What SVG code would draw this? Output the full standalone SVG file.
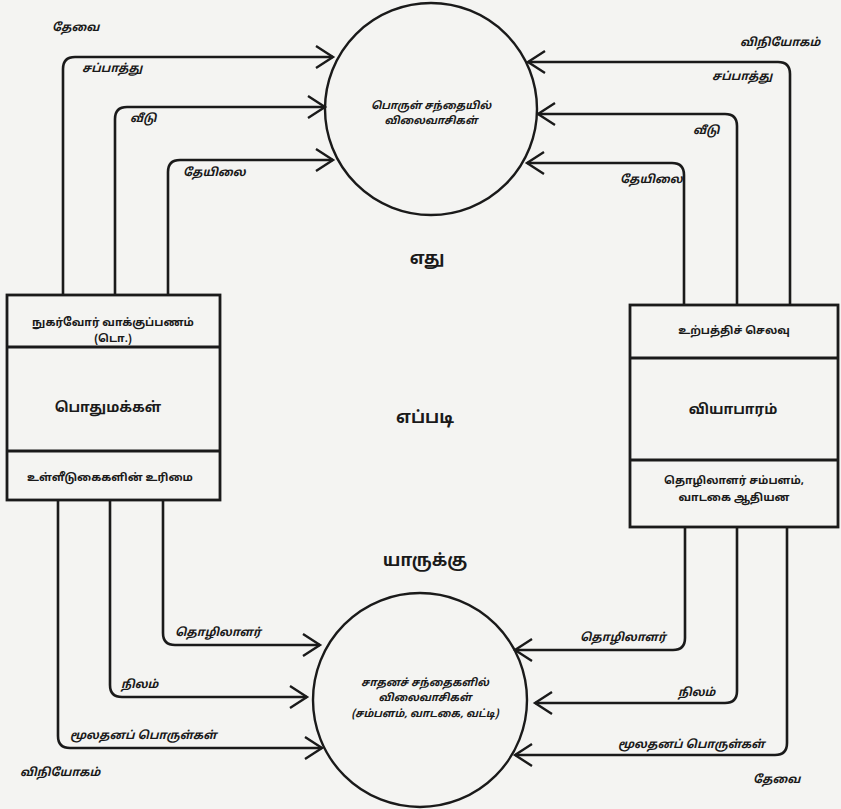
<svg xmlns="http://www.w3.org/2000/svg" width="841" height="809" viewBox="0 0 841 809">
<defs>
<marker id="ah" markerWidth="22" markerHeight="26" refX="19" refY="13" orient="auto" markerUnits="userSpaceOnUse">
<path d="M2,2 L19,13 L2,24" fill="none" stroke="#1a1a1a" stroke-width="2.4"/>
</marker>
<style>
.ln{fill:none;stroke:#1a1a1a;stroke-width:2.6;stroke-linejoin:round}
.bx{fill:none;stroke:#1a1a1a;stroke-width:2.8}
.cr{fill:none;stroke:#1a1a1a;stroke-width:2.4}
text{font-family:"Noto Sans Tamil","Lohit Tamil","Noto Sans",sans-serif;fill:#1a1a1a}
.lb{font-size:11.5px;font-style:italic;font-weight:bold}
.bt{font-size:11px;font-weight:bold;text-anchor:middle}
.bn{font-size:14px;font-weight:bold;text-anchor:middle}
.q{font-size:17px;font-weight:bold;text-anchor:middle}
.ct{font-size:10.5px;font-style:italic;font-weight:bold;text-anchor:middle}
</style>
</defs>
<rect width="841" height="809" fill="#f4f4f2"/>

<g id="connectors">
<path class="ln" d="M63,295 V69 Q63,57 75,57 H333" marker-end="url(#ah)"/>
<path class="ln" d="M115,295 V119 Q115,107 127,107 H325" marker-end="url(#ah)"/>
<path class="ln" d="M168,295 V172 Q168,160 180,160 H333" marker-end="url(#ah)"/>
<path class="ln" d="M790,305 V74 Q790,62 778,62 H528" marker-end="url(#ah)"/>
<path class="ln" d="M737,305 V126 Q737,114 725,114 H538" marker-end="url(#ah)"/>
<path class="ln" d="M684,305 V175 Q684,163 672,163 H527" marker-end="url(#ah)"/>
<path class="ln" d="M163,500 V633 Q163,645 175,645 H320" marker-end="url(#ah)"/>
<path class="ln" d="M110,500 V685 Q110,697 122,697 H307" marker-end="url(#ah)"/>
<path class="ln" d="M58,500 V736 Q58,748 70,748 H322" marker-end="url(#ah)"/>
<path class="ln" d="M685,527 V638 Q685,650 673,650 H515" marker-end="url(#ah)"/>
<path class="ln" d="M737,527 V691 Q737,703 725,703 H535" marker-end="url(#ah)"/>
<path class="ln" d="M787,527 V743 Q787,755 775,755 H515" marker-end="url(#ah)"/>
</g>

<g id="labels">
<text class="lb" x="52" y="31">தேவை</text>
<text class="lb" x="82" y="72">சப்பாத்து</text>
<text class="lb" x="130" y="122">வீடு</text>
<text class="lb" x="183" y="176">தேயிலை</text>
<text class="lb" x="740" y="46">விநியோகம்</text>
<text class="lb" x="712" y="80">சப்பாத்து</text>
<text class="lb" x="693" y="134">வீடு</text>
<text class="lb" x="620" y="183">தேயிலை</text>
<text class="lb" x="175" y="636">தொழிலாளர்</text>
<text class="lb" x="121" y="688">நிலம்</text>
<text class="lb" x="70" y="739">மூலதனப் பொருள்கள்</text>
<text class="lb" x="20" y="776">விநியோகம்</text>
<text class="lb" x="580" y="641">தொழிலாளர்</text>
<text class="lb" x="678" y="696">நிலம்</text>
<text class="lb" x="618" y="748">மூலதனப் பொருள்கள்</text>
<text class="lb" x="753" y="783">தேவை</text>
</g>

<g id="goods-market">
<circle class="cr" cx="431" cy="109" r="106"/>
<text class="ct" x="431" y="109">பொருள் சந்தையில்</text>
<text class="ct" x="431" y="124">விலைவாசிகள்</text>
</g>

<g id="factor-market">
<circle class="cr" cx="420" cy="700" r="107"/>
<text class="ct" x="425" y="686">சாதனச் சந்தைகளில்</text>
<text class="ct" x="425" y="701">விலைவாசிகள்</text>
<text class="ct" x="425" y="717">(சம்பளம், வாடகை, வட்டி)</text>
</g>

<g id="questions">
<text class="q" x="427" y="264">எது</text>
<text class="q" x="425" y="423">எப்படி</text>
<text class="q" x="425" y="566">யாருக்கு</text>
</g>

<g id="public">
<rect class="bx" x="7" y="295" width="213" height="205"/>
<line class="bx" x1="7" y1="347" x2="220" y2="347"/>
<line class="bx" x1="7" y1="451" x2="220" y2="451"/>
<text class="bt" x="113" y="326">நுகர்வோர் வாக்குப்பணம்</text>
<text class="bt" x="113" y="342">(டொ.)</text>
<text class="bn" x="108" y="412">பொதுமக்கள்</text>
<text class="bt" x="110" y="481">உள்ளீடுகைகளின் உரிமை</text>
</g>

<g id="business">
<rect class="bx" x="630" y="305" width="208" height="222"/>
<line class="bx" x1="630" y1="358" x2="838" y2="358"/>
<line class="bx" x1="630" y1="460" x2="838" y2="460"/>
<text class="bt" x="734" y="334">உற்பத்திச் செலவு</text>
<text class="bn" x="733" y="414">வியாபாரம்</text>
<text class="bt" x="734" y="484">தொழிலாளர் சம்பளம்,</text>
<text class="bt" x="734" y="501">வாடகை ஆதியன</text>
</g>
</svg>
